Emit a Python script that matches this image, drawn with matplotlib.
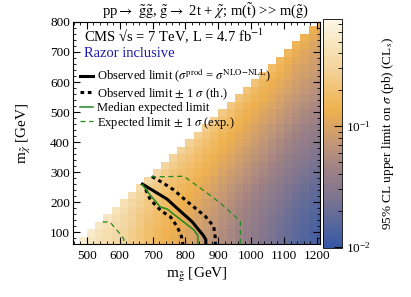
import numpy as np
import matplotlib
matplotlib.use("Agg")
import matplotlib.pyplot as plt
from matplotlib.colors import LinearSegmentedColormap, LogNorm
from matplotlib.ticker import MultipleLocator, LogLocator, NullFormatter

plt.rcParams['font.family'] = ['Liberation Serif', 'DejaVu Serif']
plt.rcParams['mathtext.fontset'] = 'stix'

# scan grid, 25 GeV cells
mg_edges = np.arange(475, 1226, 25)
mchi_edges = np.arange(60, 811, 25)

# log10(limit) in the lowest m_chi row, one value per gluino column
log_lim_mg = [-0.30, -0.33, -0.37, -0.41, -0.46, -0.52, -0.59, -0.66, -0.73, -0.79,
              -0.85, -0.90, -0.95, -1.00, -1.06, -1.12, -1.18, -1.25, -1.31, -1.37,
              -1.43, -1.49, -1.55, -1.61, -1.67, -1.73, -1.79, -1.84, -1.89, -1.93]
# shift of log10(limit) going up in m_chi, one value per row
log_lim_mchi = [0.00, 0.01, 0.03, 0.05, 0.07, 0.10, 0.13, 0.16, 0.20, 0.24,
                0.28, 0.32, 0.36, 0.40, 0.44, 0.48, 0.53, 0.57, 0.61, 0.66,
                0.70, 0.74, 0.78, 0.81, 0.84, 0.87, 0.90, 0.93, 0.96, 0.99]
# small extra on the cells right at the kinematic edge
log_lim_edge = [0.06, 0.02]

# contours
obs_mg = [669, 744, 774, 820, 855, 862, 862]
obs_mchi = [260, 210, 180, 135, 88, 75, 60]
obs_up_mg = [698, 730, 764, 805, 861, 886, 891, 891]
obs_up_mchi = [285, 265, 241, 202, 152, 119, 80, 60]
obs_dn_mg = [679, 693, 725, 755, 775, 788, 792]
obs_dn_mchi = [242, 208, 172, 150, 118, 85, 60]
exp_mg = [669, 688, 723, 744, 779, 825, 838, 838]
exp_mchi = [258, 230, 184, 177, 147, 108, 88, 60]
exp_up_mg = [695, 795, 845, 906, 962, 967, 967]
exp_up_mchi = [284, 286, 247, 197, 141, 135, 60]
exp_dn_mg = [548, 570, 595, 612, 615]
exp_dn_mchi = [134, 134, 102, 78, 60]

n = len(mg_edges) - 1
lim = np.full((n, n), np.nan)
for c in range(n):
    for r in range(c + 1):
        v = log_lim_mg[c] + log_lim_mchi[r]
        if c - r < len(log_lim_edge):
            v += log_lim_edge[c - r]
        lim[r, c] = 10 ** v

cmap = LinearSegmentedColormap.from_list("cms", [
    (0.0, '#3556a6'), (0.1, '#56679c'), (0.22, '#7d7490'), (0.35, '#a08284'),
    (0.45, '#c09578'), (0.53, '#d9a466'), (0.6, '#eeb04e'), (0.68, '#f1bf6c'),
    (0.78, '#f3d39a'), (0.9, '#f7e6c0'), (1.0, '#fdf8ea')])
norm = LogNorm(vmin=0.0098, vmax=0.77)

fig = plt.figure(figsize=(4.11, 2.97), dpi=100)
ax = fig.add_axes([0.177, 0.178, 0.602, 0.748])
cax = fig.add_axes([0.785, 0.165, 0.046, 0.771])

mesh = ax.pcolormesh(mg_edges, mchi_edges, np.ma.masked_invalid(lim), cmap=cmap, norm=norm)

green = '#1f8a1f'
ax.plot(obs_mg, obs_mchi, color='black', lw=2.2)
ax.plot(obs_up_mg, obs_up_mchi, color='black', lw=2.2, ls=(0, (1.2, 1.2)))
ax.plot(obs_dn_mg, obs_dn_mchi, color='black', lw=2.2, ls=(0, (1.2, 1.2)))
ax.plot(exp_mg, exp_mchi, color=green, lw=1.1)
ax.plot(exp_up_mg, exp_up_mchi, color=green, lw=0.9, ls=(0, (4, 3)))
ax.plot(exp_dn_mg, exp_dn_mchi, color=green, lw=0.9, ls=(0, (4, 3)))

ax.set_xlim(457, 1210)
ax.set_ylim(60, 800)
ax.xaxis.set_major_locator(MultipleLocator(100))
ax.xaxis.set_minor_locator(MultipleLocator(20))
ax.yaxis.set_major_locator(MultipleLocator(100))
ax.yaxis.set_minor_locator(MultipleLocator(20))
ax.tick_params(which='both', direction='in', top=True, right=True, labelsize=9.5)
ax.tick_params(axis='x', pad=4)
ax.tick_params(axis='y', pad=2)
ax.tick_params(which='major', length=5)
ax.tick_params(which='minor', length=2.5)

ax.set_xlabel(r"m$_{\tilde{\mathrm{g}}}$ [GeV]", fontsize=11, labelpad=3)
ax.set_ylabel(r"m$_{\tilde{\chi}}$ [GeV]", fontsize=11, labelpad=12)

fig.text(0.5, 0.965, r"pp$\rightarrow$ $\tilde{\mathrm{g}}\tilde{\mathrm{g}}$, $\tilde{\mathrm{g}}\rightarrow$ 2t + $\tilde{\chi}$; m($\tilde{\mathrm{t}}$) >> m($\tilde{\mathrm{g}}$)",
         ha='center', va='center', fontsize=10.5)

ax.text(0.045, 0.94, "CMS \u221as = 7 TeV, L = 4.7 fb$^{-1}$", transform=ax.transAxes,
        ha='left', va='center', fontsize=10.5)
ax.text(0.045, 0.86, "Razor inclusive", transform=ax.transAxes, color='#1c1ca8',
        ha='left', va='center', fontsize=10.5)

h1, = ax.plot([], [], color='black', lw=2.2)
h2, = ax.plot([], [], color='black', lw=2.2, ls=(0, (1.2, 1.2)))
h3, = ax.plot([], [], color=green, lw=1.1)
h4, = ax.plot([], [], color=green, lw=0.9, ls=(0, (4, 3)))
ax.legend([h1, h2, h3, h4],
          [r"Observed limit ($\sigma^{\mathrm{prod}}$ = $\sigma^{\mathrm{NLO\!-\!NLL}}$)",
           r"Observed limit $\pm$ 1 $\sigma$ (th.)",
           "Median expected limit",
           r"Expected limit $\pm$ 1 $\sigma$ (exp.)"],
          loc='upper left', bbox_to_anchor=(0.0, 0.83), frameon=False, fontsize=9,
          handlelength=1.0, handletextpad=0.35, labelspacing=0.05, borderaxespad=0.2)

cb = fig.colorbar(mesh, cax=cax)
cb.outline.set_linewidth(0.6)
cax.yaxis.set_major_locator(LogLocator(base=10))
cax.yaxis.set_minor_locator(LogLocator(base=10, subs=np.arange(2, 10)))
cax.yaxis.set_minor_formatter(NullFormatter())
cax.tick_params(which='both', direction='in', labelsize=9.5, pad=3)
cax.tick_params(which='major', length=6)
cax.tick_params(which='minor', length=3)
cb.set_label(r"95% CL upper limit on $\sigma$ (pb) (CL$_{\mathrm{s}}$)", fontsize=9.5, labelpad=7)

fig.savefig("out.png", dpi=100)
